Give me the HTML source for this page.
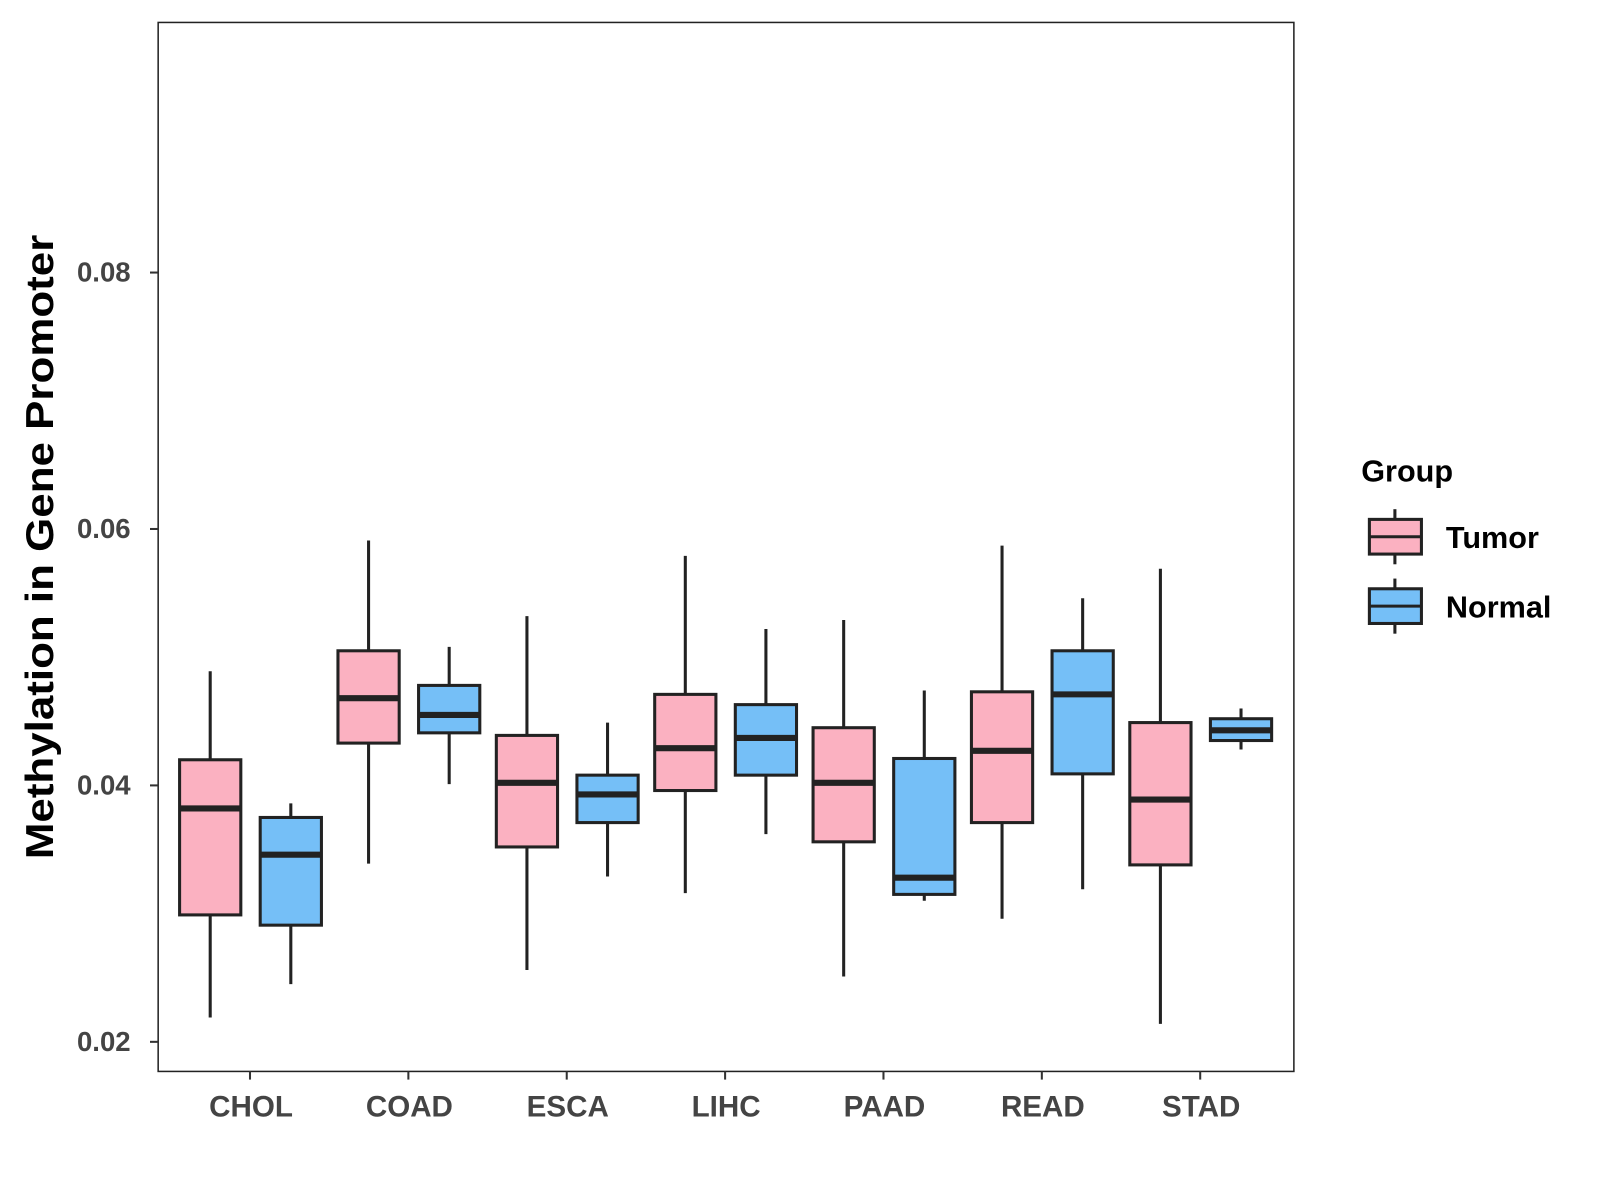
<!DOCTYPE html>
<html><head><meta charset="utf-8"><style>
body{margin:0;background:#fff;}
svg{display:block;font-family:"Liberation Sans",Arial,sans-serif;}
</style></head><body>
<svg id="chart" width="1600" height="1200" viewBox="0 0 1568 1176"></svg>
<script>
const categories=["CHOL","COAD","ESCA","LIHC","PAAD","READ","STAD"];
const groups=["Tumor","Normal"];
const groupColors=["#FBB1C1","#75BFF7"];
// [lower, q1, median, q3, upper]
const tumorStats=[[0.0219,0.0299,0.0382,0.0420,0.0489],[0.0339,0.0433,0.0468,0.0505,0.0591],[0.0256,0.0352,0.0402,0.0439,0.0532],[0.0316,0.0396,0.0429,0.0471,0.0579],[0.0251,0.0356,0.0402,0.0445,0.0529],[0.0296,0.0371,0.0427,0.0473,0.0587],[0.0214,0.0338,0.0389,0.0449,0.0569]];
const normalStats=[[0.0245,0.0291,0.0346,0.0375,0.0386],[0.0401,0.0441,0.0455,0.0478,0.0508],[0.0329,0.0371,0.0393,0.0408,0.0449],[0.0362,0.0408,0.0437,0.0463,0.0522],[0.0310,0.0315,0.0328,0.0421,0.0474],[0.0319,0.0409,0.0471,0.0505,0.0546],[0.0428,0.0435,0.0443,0.0452,0.0460]];
const yTicks=[0.02,0.04,0.06,0.08];
const yTickLabels=["0.02","0.04","0.06","0.08"];

const NS="http://www.w3.org/2000/svg";
const svg=document.getElementById("chart");
const L=155,R=1268,T=22,B=1050;
function y(v){return 1021-(v-0.02)/0.02*251.3;}
function x(i){return 245+i*155.2;}
function el(tag,attrs,parent){const e=document.createElementNS(NS,tag);for(const k in attrs)e.setAttribute(k,attrs[k]);(parent||svg).appendChild(e);return e;}

const panel=el("rect",{x:L,y:T,width:R-L,height:B-T,fill:"#fff",stroke:"#222","stroke-width":1.5});



yTicks.forEach((v,i)=>{
  const t=el("line",{x1:L-8,x2:L,y1:y(v),y2:y(v),stroke:"#333","stroke-width":2});
  
  
  const tx=el("text",{x:L-27,y:y(v)+9,"text-anchor":"end","font-size":27,"font-weight":"bold",fill:"#444"});
  tx.textContent=yTickLabels[i];
  
  
});
categories.forEach((c,i)=>{
  const t=el("line",{x1:x(i),x2:x(i),y1:B,y2:B+8,stroke:"#333","stroke-width":2});
  
  
  const tx=el("text",{x:x(i)+1,y:B+44,"text-anchor":"middle","font-size":29,"font-weight":"bold",fill:"#444"});
  tx.textContent=c;
  
  
});
const yl=el("text",{x:0,y:0,transform:"translate(52,536) rotate(-90)","text-anchor":"middle","font-size":38,"font-weight":"bold",fill:"#000",textLength:612,lengthAdjust:"spacingAndGlyphs"});
yl.textContent="Methylation in Gene Promoter";



function drawBox(cx,s,color,name){
  const g=el("g",{});
  
  
  el("line",{x1:cx,x2:cx,y1:y(s[4]),y2:y(s[0]),stroke:"#222","stroke-width":3},g);
  el("rect",{x:cx-30,y:y(s[3]),width:60,height:y(s[1])-y(s[3]),fill:color,stroke:"#222","stroke-width":3},g);
  el("line",{x1:cx-30,x2:cx+30,y1:y(s[2]),y2:y(s[2]),stroke:"#222","stroke-width":6},g);
}
categories.forEach((c,i)=>{
  drawBox(x(i)-39,tumorStats[i],groupColors[0],"box-tumor-"+c.toLowerCase());
  drawBox(x(i)+40,normalStats[i],groupColors[1],"box-normal-"+c.toLowerCase());
});

const lt=el("text",{x:1334,y:472,"font-size":30,"font-weight":"bold",fill:"#000"});
lt.textContent="Group";


groups.forEach((gname,i)=>{
  const top=509+i*68;
  const g=el("g",{});
  
  
  el("line",{x1:1367,x2:1367,y1:top-10,y2:top+44,stroke:"#222","stroke-width":3},g);
  el("rect",{x:1342,y:top,width:51,height:34,fill:groupColors[i],stroke:"#222","stroke-width":3},g);
  el("line",{x1:1342,x2:1393,y1:top+17,y2:top+17,stroke:"#222","stroke-width":3},g);
  const t=el("text",{x:1417,y:top+28,"font-size":30,"font-weight":"bold",fill:"#000"},g);
  t.textContent=gname;
});
</script>
</body></html>
